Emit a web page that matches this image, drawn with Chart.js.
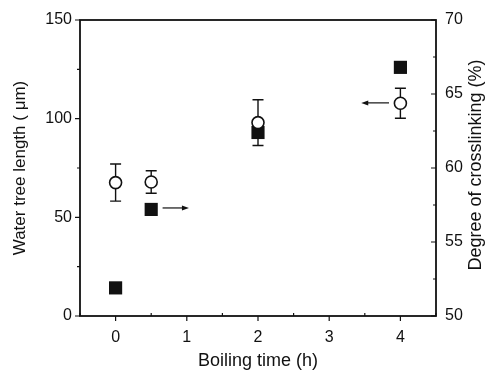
<!DOCTYPE html>
<html>
<head>
<meta charset="utf-8">
<script src="https://cdn.jsdelivr.net/npm/chart.js@4.4.0/dist/chart.umd.min.js"></script>
<style>
  html, body { margin: 0; padding: 0; background: #fff; }
  #wrap { width: 494px; height: 374px; }
</style>
</head>
<body>
<div id="wrap"><canvas id="mycanvas" width="494" height="374"></canvas></div>
<script>
// data
var boilTime   = [0, 0.5, 2, 4];
var treeLength = [67.6, 67.9, 98, 107.8];     // left axis, um
var treeErr    = [9.4, 5.7, 11.6, 7.6];
var crosslink  = [51.9, 57.2, 62.4, 66.8];     // right axis, %

var xTicks     = [0, 1, 2, 3, 4];
var xMinor     = [-0.5, 0.5, 1.5, 2.5, 3.5, 4.5];
var leftTicks  = [0, 50, 100, 150];
var leftMinor  = [25, 75, 125];
var rightTicks = [50, 55, 60, 65, 70];
var rightMinor = [52.5, 57.5, 62.5, 67.5];

// arrows pointing to the axis each series belongs to (data units)
var arrowRight = { x1: 0.66, x2: 1.03, y: 57.3, axis: 'y2' };
var arrowLeft  = { x1: 3.84, x2: 3.45, y: 108, axis: 'y' };

var ink = '#111';
var fontFam = '"Liberation Sans", Arial, sans-serif';

function pts(xs, ys) {
  var out = [];
  for (var i = 0; i < xs.length; i++) out.push({ x: xs[i], y: ys[i] });
  return out;
}

var extras = {
  id: 'extras',
  beforeDatasetsDraw: function(chart) {
    var ctx = chart.ctx, xs = chart.scales.x, ys = chart.scales.y;
    ctx.save();
    ctx.strokeStyle = ink;
    ctx.lineWidth = 1.4;
    for (var i = 0; i < boilTime.length; i++) {
      var px = xs.getPixelForValue(boilTime[i]);
      var top = ys.getPixelForValue(treeLength[i] + treeErr[i]);
      var bot = ys.getPixelForValue(treeLength[i] - treeErr[i]);
      ctx.beginPath();
      ctx.moveTo(px, top); ctx.lineTo(px, bot);
      ctx.moveTo(px - 5.5, top); ctx.lineTo(px + 5.5, top);
      ctx.moveTo(px - 5.5, bot); ctx.lineTo(px + 5.5, bot);
      ctx.stroke();
    }
    ctx.restore();
  },
  afterDraw: function(chart) {
    var ctx = chart.ctx, a = chart.chartArea;
    var xs = chart.scales.x, ys = chart.scales.y, y2 = chart.scales.y2;
    ctx.save();
    ctx.strokeStyle = ink;
    ctx.fillStyle = ink;
    ctx.lineWidth = 1.8;
    ctx.strokeRect(a.left, a.top, a.right - a.left, a.bottom - a.top);

    ctx.lineWidth = 1.2;
    ctx.beginPath();
    xTicks.forEach(function(v) { var p = xs.getPixelForValue(v); ctx.moveTo(p, a.bottom); ctx.lineTo(p, a.bottom + 5); });
    xMinor.forEach(function(v) { var p = xs.getPixelForValue(v); ctx.moveTo(p, a.bottom); ctx.lineTo(p, a.bottom - 3); });
    leftTicks.forEach(function(v) { var p = ys.getPixelForValue(v); ctx.moveTo(a.left, p); ctx.lineTo(a.left - 5, p); });
    leftMinor.forEach(function(v) { var p = ys.getPixelForValue(v); ctx.moveTo(a.left, p); ctx.lineTo(a.left - 3, p); });
    rightTicks.forEach(function(v) { var p = y2.getPixelForValue(v); ctx.moveTo(a.right, p); ctx.lineTo(a.right - 5, p); });
    rightMinor.forEach(function(v) { var p = y2.getPixelForValue(v); ctx.moveTo(a.right, p); ctx.lineTo(a.right - 3, p); });
    ctx.stroke();

    [arrowRight, arrowLeft].forEach(function(ar) {
      var sc = chart.scales[ar.axis];
      var p1 = xs.getPixelForValue(ar.x1), p2 = xs.getPixelForValue(ar.x2), py = sc.getPixelForValue(ar.y);
      var dir = p2 > p1 ? 1 : -1;
      ctx.beginPath();
      ctx.moveTo(p1, py); ctx.lineTo(p2 - dir * 5, py);
      ctx.stroke();
      ctx.beginPath();
      ctx.moveTo(p2, py); ctx.lineTo(p2 - dir * 7, py - 2.5); ctx.lineTo(p2 - dir * 7, py + 2.5);
      ctx.closePath();
      ctx.fill();
    });

    // right axis title reads bottom-to-top like the left one
    ctx.font = '18px ' + fontFam;
    ctx.textAlign = 'center';
    ctx.textBaseline = 'middle';
    ctx.translate(476, (a.top + a.bottom) / 2 - 3);
    ctx.rotate(-Math.PI / 2);
    ctx.fillText('Degree of crosslinking (%)', 0, 0);
    ctx.restore();
  }
};

var ctx = document.getElementById('mycanvas');
var chart = new Chart(ctx, {
  type: 'scatter',
  data: {
    datasets: [
      {
        label: 'Water tree length',
        data: pts(boilTime, treeLength),
        yAxisID: 'y',
        order: 0,
        pointStyle: 'circle',
        pointRadius: 6,
        pointBackgroundColor: '#fff',
        pointBorderColor: ink,
        pointBorderWidth: 1.6
      },
      {
        label: 'Degree of crosslinking',
        data: pts(boilTime, crosslink),
        yAxisID: 'y2',
        order: 1,
        pointStyle: 'rect',
        pointRadius: 9.3,
        pointBackgroundColor: ink,
        pointBorderColor: ink,
        pointBorderWidth: 0
      }
    ]
  },
  options: {
    responsive: false,
    devicePixelRatio: 1,
    animation: false,
    events: [],
    layout: { padding: { top: 20, left: 0, right: 0, bottom: 0 } },
    plugins: { legend: { display: false }, tooltip: { enabled: false } },
    scales: {
      x: {
        type: 'linear',
        position: 'bottom',
        min: -0.5, max: 4.5,
        afterBuildTicks: function(axis) { axis.ticks = xTicks.map(function(v) { return { value: v }; }); },
        afterFit: function(axis) { axis.height = 58; },
        grid: { display: false, drawTicks: false },
        border: { display: false },
        ticks: { color: ink, padding: 12, font: { family: fontFam, size: 16 } },
        title: { display: true, text: 'Boiling time (h)', color: ink, font: { family: fontFam, size: 18 }, padding: { top: 0, bottom: 2 } }
      },
      y: {
        type: 'linear',
        position: 'left',
        min: 0, max: 150,
        afterBuildTicks: function(axis) { axis.ticks = leftTicks.map(function(v) { return { value: v }; }); },
        afterFit: function(axis) { axis.width = 80; },
        grid: { display: false, drawTicks: false },
        border: { display: false },
        ticks: { color: ink, padding: 8, font: { family: fontFam, size: 16 } },
        title: { display: true, text: 'Water tree length ( \u03bcm)', color: ink, font: { family: fontFam, size: 17 }, padding: { top: 10, bottom: 0 } }
      },
      y2: {
        type: 'linear',
        position: 'right',
        min: 50, max: 70,
        afterBuildTicks: function(axis) { axis.ticks = rightTicks.map(function(v) { return { value: v }; }); },
        afterFit: function(axis) { axis.width = 58; },
        grid: { display: false, drawTicks: false },
        border: { display: false },
        ticks: { color: ink, padding: 9, font: { family: fontFam, size: 16 } }
      }
    }
  },
  plugins: [extras]
});
</script>
</body>
</html>
